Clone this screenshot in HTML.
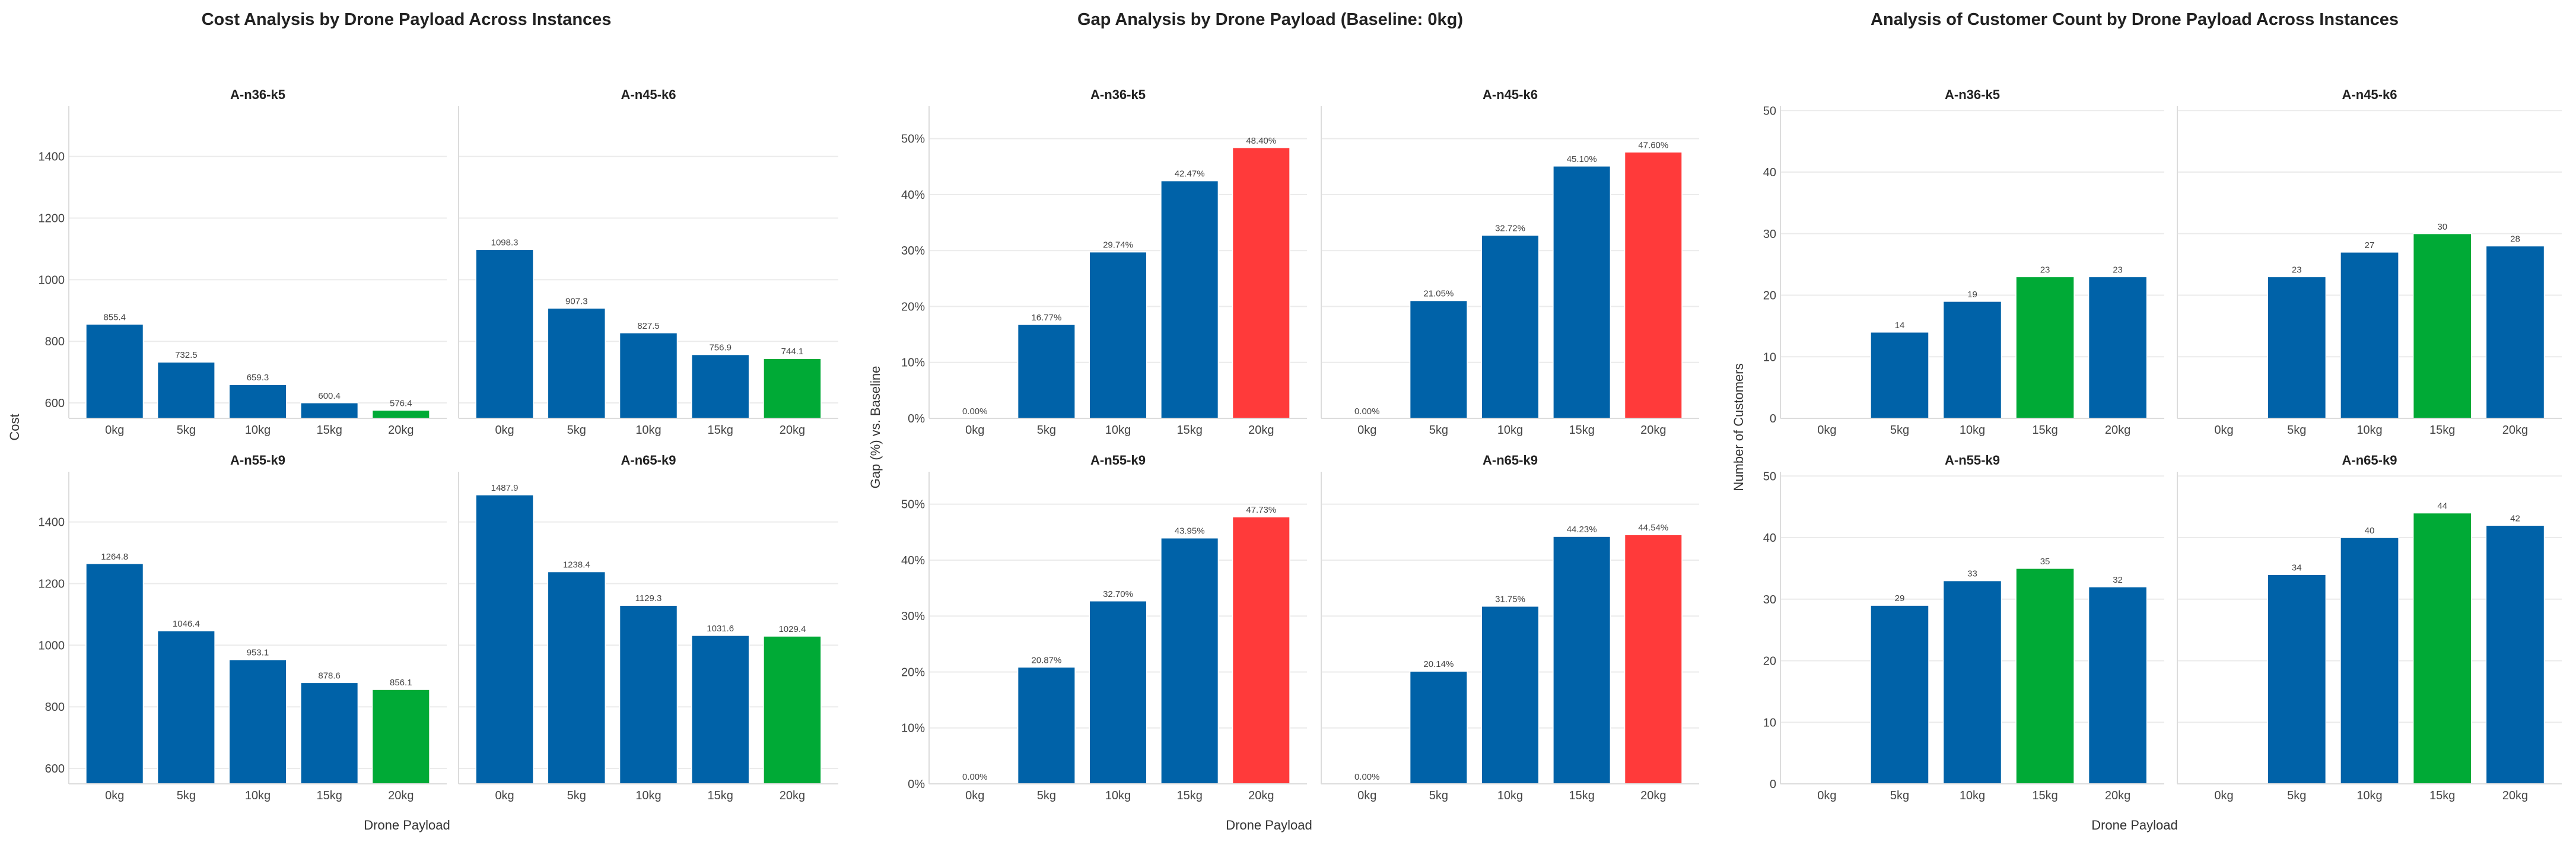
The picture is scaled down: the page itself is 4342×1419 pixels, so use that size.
<!DOCTYPE html>
<html><head><meta charset="utf-8"><style>
html,body{margin:0;padding:0;background:#fff}
svg{display:block;font-family:"Liberation Sans",Arial,sans-serif}
</style></head><body>
<svg id="chart" width="4342" height="1419" viewBox="0 0 4342 1419" xmlns="http://www.w3.org/2000/svg"></svg>
<script>
// ---- data ----
const categories = ["0kg","5kg","10kg","15kg","20kg"];
const instances = ["A-n36-k5","A-n45-k6","A-n55-k9","A-n65-k9"];
const costN36 = [855.4,732.5,659.3,600.4,576.4];
const costN45 = [1098.3,907.3,827.5,756.9,744.1];
const costN55 = [1264.8,1046.4,953.1,878.6,856.1];
const costN65 = [1487.9,1238.4,1129.3,1031.6,1029.4];
const gapN36 = [0,16.77,29.74,42.47,48.40];
const gapN45 = [0,21.05,32.72,45.10,47.60];
const gapN55 = [0,20.87,32.70,43.95,47.73];
const gapN65 = [0,20.14,31.75,44.23,44.54];
const custN36 = [0,14,19,23,23];
const custN45 = [0,23,27,30,28];
const custN55 = [0,29,33,35,32];
const custN65 = [0,34,40,44,42];
const costTicks = [600,800,1000,1200,1400];
const gapTicks = [0,10,20,30,40,50];
const custTicks = [0,10,20,30,40,50];

const NS="http://www.w3.org/2000/svg";
const svg=document.getElementById('chart');
function mk(tag,attrs,parent){const e=document.createElementNS(NS,tag);for(const k in attrs)e.setAttribute(k,attrs[k]);(parent||svg).appendChild(e);return e;}
function txt(s,attrs,parent){const e=mk('text',attrs,parent);e.textContent=s;return e;}

const BLUE="#0062a8",GREEN="#00aa36",RED="#ff3a3a";
const ROWS=[[179,705],[795,1321]];

function drawGroup(g){
  const grp=mk('g',{});
  
  
  const t=txt(g.title,{x:g.titleX,y:42,'text-anchor':'middle','font-size':29,'font-weight':'bold',fill:'#222'},grp);
  
  
  g.series.forEach((vals,i)=>{
    const r=Math.floor(i/2),c=i%2;
    const x0=g.cols[c][0],x1=g.cols[c][1],yT=ROWS[r][0],yB=ROWS[r][1];
    const p=mk('g',{},grp);
    
    
    const sx=v=>x0+(v+0.64)/5.28*(x1-x0);
    const sy=v=>yB-(v-g.ymin)/(g.ymax-g.ymin)*(yB-yT);
    g.ticks.forEach(tv=>{
      const gl=mk('line',{x1:x0,x2:x1,y1:sy(tv),y2:sy(tv),stroke:'#ebebeb','stroke-width':2},p);
      
      
      if(c===0){
        const tl=txt(g.fmtTick(tv),{x:x0-7,y:sy(tv)+7,'text-anchor':'end','font-size':20,fill:'#444'},p);
        
        
      }
    });
    const st=txt(instances[i],{x:(x0+x1)/2,y:yT-12,'text-anchor':'middle','font-size':22,'font-weight':'bold',fill:'#222'},p);
    
    
    const hi=g.highlight(vals);
    vals.forEach((v,k)=>{
      const bx=sx(k-0.4),bw=sx(k+0.4)-sx(k-0.4);
      const base=Math.max(g.ymin,0);
      if(v>base){
        const b=mk('rect',{x:bx,y:sy(v),width:bw,height:sy(base)-sy(v),fill:k===hi?g.hiColor:BLUE,stroke:'#fff','stroke-width':1.5},p);
        
        
      }
      if(g.showZero||v>0){
        const vl=txt(g.fmtVal(v),{x:sx(k),y:sy(Math.max(v,base))-7,'text-anchor':'middle','font-size':15,fill:'#444'},p);
        
        
      }
      const xl=txt(categories[k],{x:sx(k),y:yB+26,'text-anchor':'middle','font-size':20,fill:'#444'},p);
      
      
    });
    const ls=mk('line',{x1:x0,x2:x0,y1:yT,y2:yB,stroke:'#dcdcdc','stroke-width':2},p);
    
    
    const bs=mk('line',{x1:x0,x2:x1,y1:yB,y2:yB,stroke:'#dcdcdc','stroke-width':2},p);
    
    
  });
  const yl=txt(g.ylabel,{x:0,y:0,transform:`translate(${g.ylabelX},720) rotate(-90)`,'text-anchor':'middle','font-size':22,fill:'#333'},grp);
  
  
  const xt=txt('Drone Payload',{x:g.xlabelX,y:1398,'text-anchor':'middle','font-size':22,fill:'#333'},grp);
  
  
}

drawGroup({name:'cost-chart',title:'Cost Analysis by Drone Payload Across Instances',titleX:685,
  cols:[[116,753],[773,1413]],series:[costN36,costN45,costN55,costN65],ymin:550,ymax:1563,ticks:costTicks,
  fmtTick:v=>String(v),fmtVal:v=>v.toFixed(1),highlight:a=>a.indexOf(Math.min(...a)),hiColor:GREEN,showZero:true,
  ylabel:'Cost',ylabelX:32,xlabelX:686});
drawGroup({name:'gap-chart',title:'Gap Analysis by Drone Payload (Baseline: 0kg)',titleX:2141,
  cols:[[1566,2203],[2227,2864]],series:[gapN36,gapN45,gapN55,gapN65],ymin:0,ymax:55.8,ticks:gapTicks,
  fmtTick:v=>v+'%',fmtVal:v=>v.toFixed(2)+'%',highlight:a=>a.length-1,hiColor:RED,showZero:true,
  ylabel:'Gap (%) vs. Baseline',ylabelX:1483,xlabelX:2139});
drawGroup({name:'customer-chart',title:'Analysis of Customer Count by Drone Payload Across Instances',titleX:3598,
  cols:[[3001,3648],[3670,4318]],series:[custN36,custN45,custN55,custN65],ymin:0,ymax:50.7,ticks:custTicks,
  fmtTick:v=>String(v),fmtVal:v=>String(v),highlight:a=>a.indexOf(Math.max(...a)),hiColor:GREEN,showZero:false,
  ylabel:'Number of Customers',ylabelX:2938,xlabelX:3598});
</script>
</body></html>
